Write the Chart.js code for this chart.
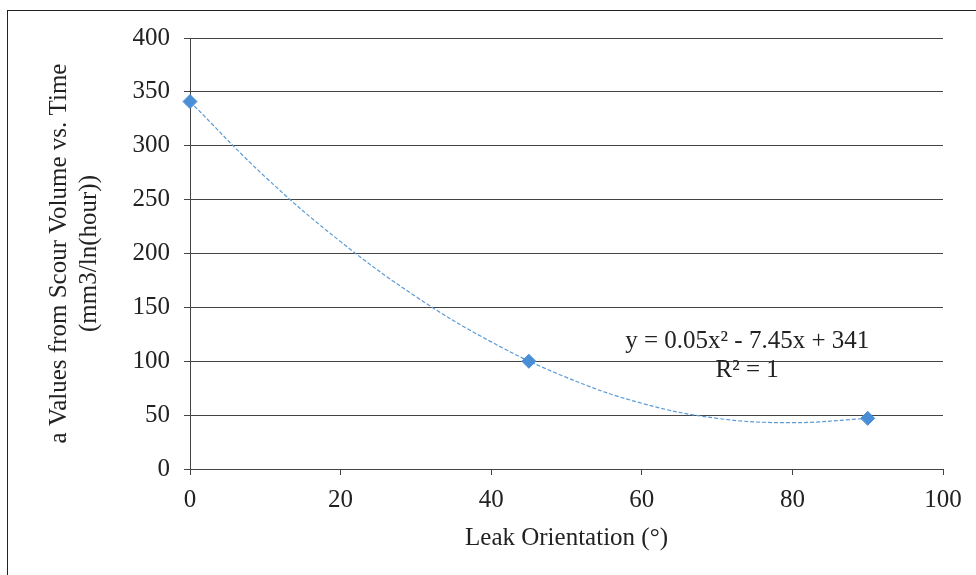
<!DOCTYPE html>
<html>
<head>
<meta charset="utf-8">
<script src="https://cdn.jsdelivr.net/npm/chart.js@4.4.1/dist/chart.umd.min.js"></script>
<style>
  html, body { margin: 0; padding: 0; background: #fff; }
  #wrap { position: relative; width: 976px; height: 575px; overflow: hidden; }
  #frame { position: absolute; left: 7px; top: 10px; width: 1000px; height: 600px;
           border-left: 1px solid #222; border-top: 1px solid #222; }
  canvas { position: absolute; left: 0; top: 0; }
</style>
</head>
<body>
<div id="wrap">
  <div id="frame"></div>
  <canvas id="scourChart" width="976" height="575"></canvas>
</div>
<script>
// a-values per leak orientation
const orientations = [0, 45, 90];
const aValues = [341, 100, 47];

// polynomial trendline
const trendX = [0, 10, 20, 30, 40, 50, 60, 70, 80, 90];
const trendY = [341, 271, 211, 160, 118, 85, 61, 47, 43, 47];

const xTicks = [0, 20, 40, 60, 80, 100];
const yTicks = [0, 50, 100, 150, 200, 250, 300, 350, 400];

const trendLabel = ['y = 0.05x² - 7.45x + 341', 'R² = 1'];

const FONT = { family: '"Liberation Serif", "Times New Roman", serif', size: 25 };
const INK = '#222';
const AXIS = '#444';

// equation + R² text next to the trendline
const trendLabelPlugin = {
  id: 'trendLabel',
  afterDatasetsDraw(chart) {
    const { ctx, chartArea } = chart;
    const cx = chartArea.left + (chartArea.right - chartArea.left) * 0.74;
    ctx.save();
    ctx.font = FONT.size + 'px ' + FONT.family;
    ctx.fillStyle = INK;
    ctx.textAlign = 'center';
    ctx.textBaseline = 'alphabetic';
    ctx.fillText(trendLabel[0], cx, chartArea.top + 310);
    ctx.fillText(trendLabel[1], cx, chartArea.top + 339);
    ctx.restore();
  }
};

const ctx = document.getElementById('scourChart').getContext('2d');
new Chart(ctx, {
  type: 'scatter',
  data: {
    datasets: [{
      label: 'a',
      data: orientations.map((x, i) => ({ x, y: aValues[i] })),
      pointStyle: 'rectRot',
      pointRadius: 7,
      pointBackgroundColor: '#4a8fd6',
      pointBorderColor: '#4a8fd6',
      pointBorderWidth: 1,
      showLine: false,
      clip: false
    }, {
      label: 'Poly. (a)',
      data: trendX.map((x, i) => ({ x, y: trendY[i] })),
      showLine: true,
      pointRadius: 0,
      borderColor: '#5b9bd5',
      borderWidth: 1.2,
      borderDash: [4, 2],
      tension: 0.4,
      fill: false
    }]
  },
  options: {
    responsive: false,
    animation: false,
    devicePixelRatio: 1,
    layout: { padding: { left: 0, top: 38, right: 33, bottom: 0 } },
    plugins: {
      legend: { display: false },
      tooltip: { enabled: false }
    },
    scales: {
      x: {
        type: 'linear',
        min: 0,
        max: 100,
        afterBuildTicks: s => { s.ticks = xTicks.map(v => ({ value: v })); },
        afterFit: s => { s.height = 106; },
        ticks: { font: FONT, color: INK, padding: 10, maxRotation: 0 },
        grid: { drawOnChartArea: false, drawTicks: true, tickLength: 6, color: AXIS },
        border: { color: AXIS, width: 1 },
        title: {
          display: true,
          text: 'Leak Orientation (°)',
          font: FONT,
          color: INK,
          padding: { top: 0, bottom: 22 }
        }
      },
      y: {
        min: 0,
        max: 400,
        afterBuildTicks: s => { s.ticks = yTicks.map(v => ({ value: v })); },
        afterFit: s => { s.width = 190; },
        ticks: { font: FONT, color: INK, padding: 14 },
        grid: { color: AXIS, tickLength: 6, lineWidth: 1 },
        border: { color: AXIS, width: 1 },
        title: {
          display: true,
          text: ['a Values from Scour Volume vs. Time', '(mm3/ln(hour))'],
          font: FONT,
          color: INK,
          padding: { top: 44, bottom: 0 }
        }
      }
    }
  },
  plugins: [trendLabelPlugin]
});
</script>
</body>
</html>
